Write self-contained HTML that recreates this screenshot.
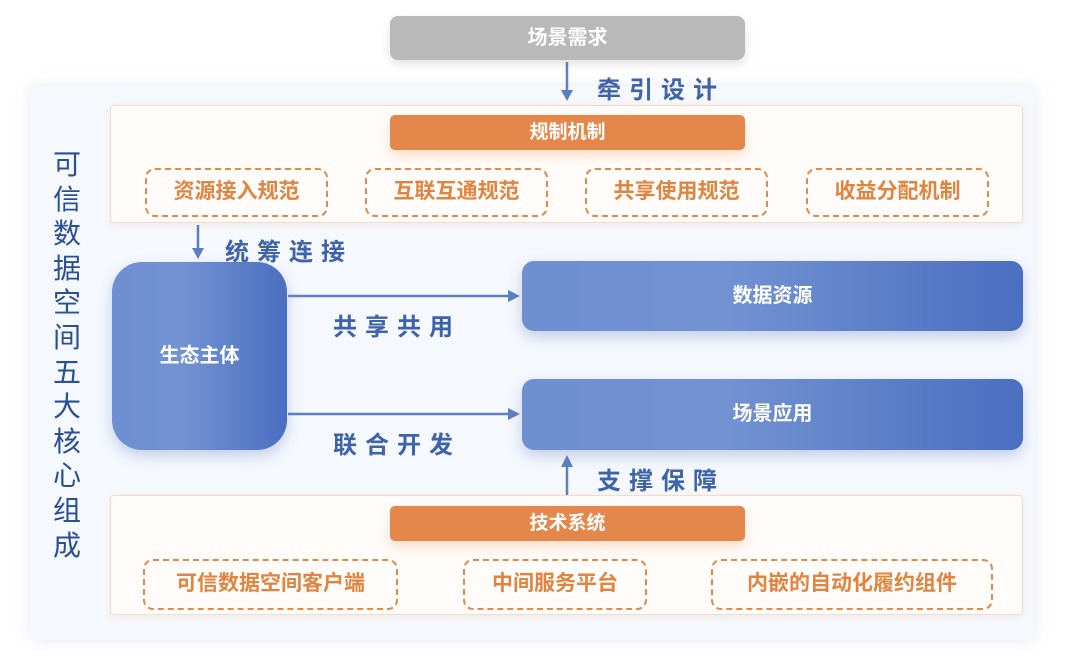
<!DOCTYPE html>
<html><head><meta charset="utf-8"><style>
*{margin:0;padding:0;box-sizing:border-box}
body{width:1080px;height:658px;background:#fff;position:relative;overflow:hidden;font-family:"Liberation Sans","Noto Sans CJK SC",sans-serif}
.a{position:absolute}
.outer{left:30px;top:86px;width:1005px;height:554px;background:#f5f8fd;border-radius:6px;box-shadow:0 0 14px rgba(150,170,210,.25)}
.panel{background:#fffcf9;border:1px solid #f6dcc8;border-radius:4px;box-shadow:0 2px 8px rgba(230,160,110,.15)}
.bar{background:#e3874a;border-radius:5px;color:#fff;font-weight:bold;font-size:19px;text-align:center;box-shadow:0 6px 12px rgba(227,135,74,.25)}
.dash{border:2.5px dashed #e08a4d;border-radius:10px;color:#e0843f;font-weight:bold;font-size:21px;text-align:center}
.blue{background:linear-gradient(90deg,#6e8fd0,#7292d2 40%,#4a6fc0);color:#fff;font-weight:bold;font-size:20px;text-align:center;box-shadow:0 6px 14px rgba(80,110,190,.3)}
.lbl{color:#3f63a8;font-weight:bold;font-size:24px;letter-spacing:8px}
.vt{left:50px;top:148px;width:34px;color:#2a4f95;font-size:28px;line-height:34.6px;text-align:center}
</style></head><body>
<div class="a outer"></div>
<div class="a" style="left:390px;top:16px;width:355px;height:44px;background:#b9b9b9;border-radius:8px;color:#fff;font-weight:bold;font-size:20px;line-height:44px;text-align:center;box-shadow:0 4px 10px rgba(0,0,0,.12)">场景需求</div>
<div class="a vt">可<br>信<br>数<br>据<br>空<br>间<br>五<br>大<br>核<br>心<br>组<br>成</div>

<div class="a panel" style="left:110px;top:105px;width:913px;height:118px"></div>
<div class="a bar" style="left:390px;top:115px;width:355px;height:35px;line-height:35px">规制机制</div>
<div class="a dash" style="left:145px;top:168px;width:183px;height:49px;line-height:44px">资源接入规范</div>
<div class="a dash" style="left:365px;top:168px;width:183px;height:49px;line-height:44px">互联互通规范</div>
<div class="a dash" style="left:585px;top:168px;width:183px;height:49px;line-height:44px">共享使用规范</div>
<div class="a dash" style="left:806px;top:168px;width:183px;height:49px;line-height:44px">收益分配机制</div>

<div class="a blue" style="left:112px;top:262px;width:175px;height:188px;border-radius:30px;line-height:188px">生态主体</div>
<div class="a blue" style="left:522px;top:261px;width:501px;height:70px;border-radius:12px;line-height:70px">数据资源</div>
<div class="a blue" style="left:522px;top:379px;width:501px;height:71px;border-radius:12px;line-height:71px">场景应用</div>

<div class="a panel" style="left:110px;top:495px;width:913px;height:120px"></div>
<div class="a bar" style="left:390px;top:506px;width:355px;height:35px;line-height:35px">技术系统</div>
<div class="a dash" style="left:143px;top:559px;width:255px;height:51px;line-height:46px">可信数据空间客户端</div>
<div class="a dash" style="left:463px;top:559px;width:184px;height:51px;line-height:46px">中间服务平台</div>
<div class="a dash" style="left:711px;top:559px;width:282px;height:51px;line-height:46px">内嵌的自动化履约组件</div>

<svg class="a" style="left:0;top:0" width="1080" height="658">
<g stroke="#5b7ec4" stroke-width="2.5" fill="#5b7ec4">
<line x1="567" y1="62" x2="567" y2="92"/><polygon points="561,90 573,90 567,101" stroke="none"/>
<line x1="198" y1="225" x2="198" y2="250"/><polygon points="192,248 204,248 198,259" stroke="none"/>
<line x1="288" y1="296" x2="510" y2="296"/><polygon points="508,290 508,302 520,296" stroke="none"/>
<line x1="288" y1="414" x2="510" y2="414"/><polygon points="508,408 508,420 520,414" stroke="none"/>
<line x1="567" y1="495" x2="567" y2="465"/><polygon points="561,467 573,467 567,455" stroke="none"/>
</g></svg>
<div class="a lbl" style="left:597px;top:70px">牵引设计</div>
<div class="a lbl" style="left:225px;top:232px">统筹连接</div>
<div class="a lbl" style="left:333px;top:307px">共享共用</div>
<div class="a lbl" style="left:333px;top:425px">联合开发</div>
<div class="a lbl" style="left:597px;top:461px">支撑保障</div>
</body></html>
